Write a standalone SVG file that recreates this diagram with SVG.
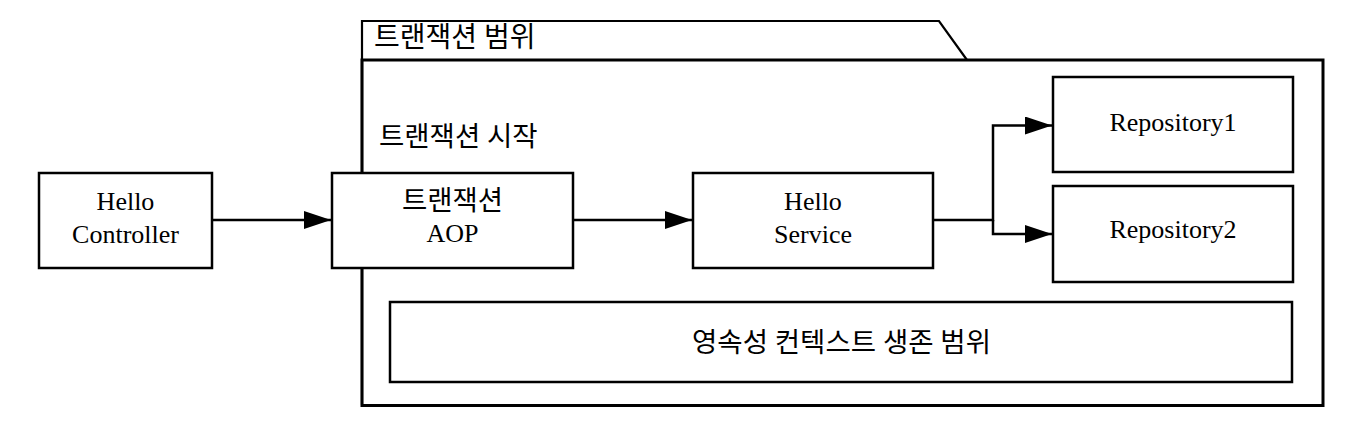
<svg xmlns="http://www.w3.org/2000/svg" width="1352" height="434" viewBox="0 0 1352 434">
<style>
.box{fill:#fff;stroke:#000;stroke-width:2.5}
.frame{fill:none;stroke:#000;stroke-width:2.2}
.edge{fill:none;stroke:#000;stroke-width:2.5}
text{font-family:"Liberation Serif","Noto Sans CJK KR",serif;font-size:26px;fill:#000}
.c{text-anchor:middle}
.ko{font-size:27.5px}
</style>
<defs>
<marker id="ah" markerWidth="28" markerHeight="20" refX="27" refY="9" orient="auto" markerUnits="userSpaceOnUse">
<path d="M0,0 L27,9 L0,18 Z" fill="#000"/>
</marker>
</defs>
<rect width="1352" height="434" fill="#fff"/>
<g id="package">
<path class="frame" d="M362,405 V21 H939 L967,60"/>
<rect x="362" y="60" width="961" height="345.5" fill="none" stroke="#000" stroke-width="3"/>
<text class="ko" x="374" y="47" style="font-size:28px">트랜잭션 범위</text>
<text class="ko" x="379" y="146">트랜잭션 시작</text>
</g>
<g id="controller">
<rect class="box" x="39" y="173" width="173" height="95"/>
<text class="c" x="125.5" y="210">Hello</text>
<text class="c" x="125.5" y="243">Controller</text>
</g>
<g id="aop">
<rect class="box" x="332" y="173" width="241" height="95"/>
<text class="c ko" x="452.5" y="210">트랜잭션</text>
<text class="c" x="452.5" y="242">AOP</text>
</g>
<g id="service">
<rect class="box" x="693" y="173" width="240" height="95"/>
<text class="c" x="813" y="210">Hello</text>
<text class="c" x="813" y="243">Service</text>
</g>
<g id="repo1">
<rect class="box" x="1053" y="77" width="240" height="95"/>
<text class="c" x="1173" y="131">Repository1</text>
</g>
<g id="repo2">
<rect class="box" x="1053" y="186" width="240" height="96"/>
<text class="c" x="1173" y="238">Repository2</text>
</g>
<g id="persistence">
<rect class="box" x="390" y="302" width="902" height="80"/>
<text class="c ko" x="841.5" y="352">영속성 컨텍스트 생존 범위</text>
</g>
<g id="connectors">
<path class="edge" d="M212,220 H331" marker-end="url(#ah)"/>
<path class="edge" d="M573,220 H692" marker-end="url(#ah)"/>
<path class="edge" d="M933,220 H993 V125.5 H1052" marker-end="url(#ah)"/>
<path class="edge" d="M993,220 V234 H1052" marker-end="url(#ah)"/>
</g>
</svg>
